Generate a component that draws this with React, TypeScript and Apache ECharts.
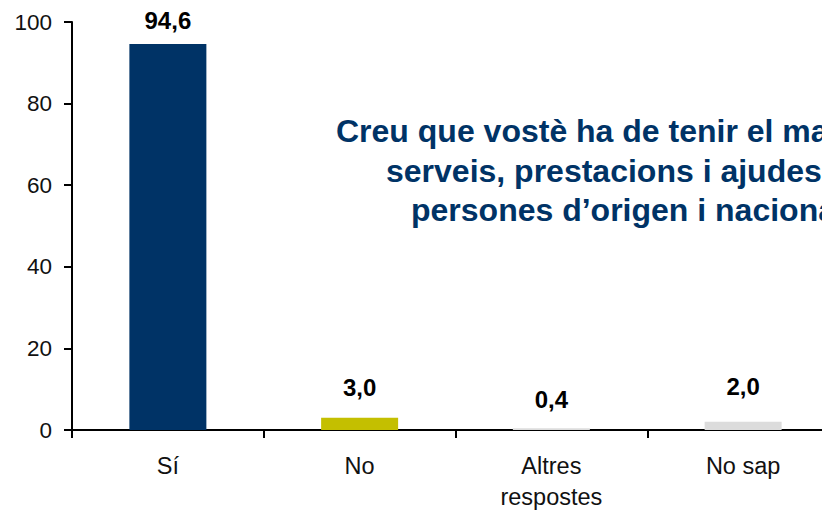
import React, { useEffect, useRef } from "react";
import * as echarts from "echarts";

// Survey answers and their percentages
const categories = ["Sí", "No", "Altres\nrespostes", "No sap"];
const values = [94.6, 3.0, 0.4, 2.0];
const barColors = ["#003366", "#c4bf00", "#dcdcdc", "#dcdcdc"];
const yTicks = [0, 20, 40, 60, 80, 100];

const titleLines = [
  "Creu que vostè ha de tenir el mateix accés als",
  "serveis, prestacions i ajudes que les",
  "persones d’origen i nacionalitat catalana?",
];

const FONT = "'Liberation Sans', Arial, Helvetica, sans-serif";

export default function App() {
  const ref = useRef<HTMLDivElement>(null);

  useEffect(() => {
    document.body.style.margin = "0";
    document.body.style.overflow = "hidden";
    if (!ref.current) return;
    const chart = echarts.init(ref.current, undefined, { renderer: "svg" });

    // distance of each value label above its bar
    const labelGap = [12, 18, 17, 23];

    chart.setOption({
      animation: false,
      backgroundColor: "#ffffff",
      grid: {
        left: 72,
        top: 22,
        width: 767,
        height: 408,
        containLabel: false,
        outerBoundsMode: "none",
      },
      xAxis: {
        type: "category",
        data: categories,
        axisLine: { lineStyle: { color: "#000", width: 2 } },
        axisTick: { show: true, length: 8, lineStyle: { color: "#000", width: 2 } },
        axisLabel: {
          color: "#111",
          fontFamily: FONT,
          fontSize: 23.5,
          margin: 20,
          lineHeight: 31,
          interval: 0,
        },
        splitLine: { show: false },
      },
      yAxis: {
        type: "value",
        min: yTicks[0],
        max: yTicks[yTicks.length - 1],
        interval: 20,
        axisLine: { show: true, lineStyle: { color: "#000", width: 2 } },
        axisTick: { show: true, length: 8, lineStyle: { color: "#000", width: 2 } },
        axisLabel: {
          color: "#111",
          fontFamily: FONT,
          fontSize: 22.5,
          margin: 20,
        },
        splitLine: { show: false },
      },
      series: [
        {
          type: "bar",
          barWidth: 77,
          data: values.map((v, i) => ({
            value: v,
            itemStyle: { color: barColors[i] },
            label: { distance: labelGap[i] },
          })),
          label: {
            show: true,
            position: "top",
            color: "#000",
            fontFamily: FONT,
            fontWeight: "bold",
            fontSize: 24,
            formatter: (p: any) => p.value.toFixed(1).replace(".", ","),
          },
        },
      ],
      graphic: [
        { x: 336, y: 147 },
        { x: 386, y: 187 },
        { x: 411, y: 226 },
      ].map((pos, i) => ({
        type: "text",
        x: pos.x,
        y: pos.y,
        style: {
          text: titleLines[i],
          fill: "#003366",
          font: `bold 32px ${FONT}`,
          textAlign: "left",
          textVerticalAlign: "bottom",
        },
      })),
    });

    return () => chart.dispose();
  }, []);

  return (
    <div style={{ width: 822, height: 511, overflow: "hidden", position: "relative" }}>
      <div ref={ref} style={{ width: 822, height: 511 }} />
    </div>
  );
}
